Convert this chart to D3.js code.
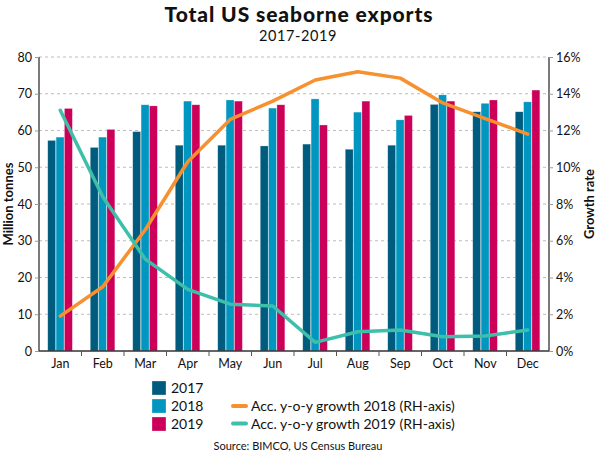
<!DOCTYPE html>
<html><head><meta charset="utf-8">
<script src="https://cdn.jsdelivr.net/npm/d3@7"></script>
<style>
body{margin:0;background:#fff;}
svg{display:block;font-family:Lato, "Open Sans", sans-serif;}
</style></head>
<body>
<svg id="c" width="599" height="455"></svg>
<script>
const months = ["Jan","Feb","Mar","Apr","May","Jun","Jul","Aug","Sep","Oct","Nov","Dec"];
const years = ["2017","2018","2019"];
const exports2017 = [57.3,55.4,59.7,56.0,56.0,55.8,56.3,54.9,56.0,67.1,65.1,65.1];
const exports2018 = [58.2,58.2,67.0,68.0,68.3,66.1,68.6,65.0,62.9,69.7,67.4,67.8];
const exports2019 = [66.0,60.3,66.7,67.0,68.0,67.0,61.5,68.0,64.1,68.0,68.3,71.0];
const growth2018 = [1.9,3.5,6.6,10.3,12.6,13.6,14.75,15.2,14.85,13.5,12.65,11.8];
const growth2019 = [13.1,8.4,5.0,3.35,2.55,2.45,0.47,1.05,1.14,0.78,0.82,1.14];
const leftTicks = [0,10,20,30,40,50,60,70,80];
const rightTicks = [0,2,4,6,8,10,12,14,16];

const barColors = {"2017":"#005c7f","2018":"#0096bf","2019":"#cc0058"};
const orange = "#f7902e", teal = "#3dbfaa";

const svg = d3.select("#c");
const m = {l:39, r:549, t:57, b:351};

const x = d3.scaleBand().domain(months).range([m.l, m.r]);
const xs = d3.scaleBand().domain(years).range([0, 25]).padding(0);
const y = d3.scaleLinear().domain([0,80]).range([m.b, m.t]);
const y2 = d3.scaleLinear().domain([0,16]).range([m.b, m.t]);

// gridlines
svg.append("g").selectAll("line").data(leftTicks.filter(d=>d>0)).join("line")
  .attr("x1", m.l).attr("x2", m.r).attr("y1", d=>y(d)).attr("y2", d=>y(d))
  .attr("stroke","#bdbdbd").attr("stroke-width",1).attr("stroke-dasharray","3,3");

// bars
const series = {"2017":exports2017,"2018":exports2018,"2019":exports2019};
const g = svg.append("g");
years.forEach(yr=>{
  g.selectAll(null).data(months).join("rect")
    .attr("x", (d)=> x(d) + (x.bandwidth()-25)/2 + xs(yr))
    .attr("width", xs.bandwidth()-0.4)
    .attr("y", (d,i)=> y(series[yr][i]))
    .attr("height", (d,i)=> y(0)-y(series[yr][i]))
    .attr("fill", barColors[yr])
    .attr("stroke","rgba(255,255,255,0.45)").attr("stroke-width",0.6);
});

// lines
const line = (arr, sc) => d3.line().x((d,i)=>x(months[i])+x.bandwidth()/2).y(d=>sc(d)).curve(d3.curveLinear)(arr);
svg.append("path").attr("d", line(growth2018, y2)).attr("fill","none").attr("stroke",orange).attr("stroke-width",3.5).attr("stroke-linecap","round").attr("stroke-linejoin","round");
svg.append("path").attr("d", line(growth2019, y2)).attr("fill","none").attr("stroke",teal).attr("stroke-width",3.5).attr("stroke-linecap","round").attr("stroke-linejoin","round");

// axes
const axL = svg.append("g").attr("transform",`translate(${m.l},0)`)
  .call(d3.axisLeft(y).tickValues(leftTicks).tickSize(4).tickPadding(3));
const axR = svg.append("g").attr("transform",`translate(${m.r},0)`)
  .call(d3.axisRight(y2).tickValues(rightTicks).tickSize(4).tickPadding(3).tickFormat(d=>d+"%"));
const axB = svg.append("g").attr("transform",`translate(0,${m.b})`)
  .call(d3.axisBottom(x).tickSize(0).tickPadding(8));
// band-edge ticks
svg.append("g").selectAll("line").data(months.slice(1)).join("line")
  .attr("x1", d=>x(d)).attr("x2", d=>x(d)).attr("y1", m.b).attr("y2", m.b+5)
  .attr("stroke","#555").attr("stroke-width",1);
[axL,axR,axB].forEach(a=>{
  a.select(".domain").attr("stroke","#333").attr("stroke-width",1.3);
  a.selectAll(".tick line").attr("stroke","#999");
  a.selectAll("text").attr("font-family","Lato, sans-serif").attr("font-size",12.5).attr("fill","#111");
});
axB.select(".domain").attr("d", `M${m.l},0H${m.r}`);
axL.select(".domain").attr("d", `M0,${m.t}V${m.b}`);
axR.select(".domain").attr("d", `M0,${m.t}V${m.b}`);

// axis titles
svg.append("text").attr("transform",`translate(13,${(m.t+m.b)/2}) rotate(-90)`)
  .attr("text-anchor","middle").attr("font-weight","bold").attr("font-size",13).attr("fill","#111")
  .text("Million tonnes");
svg.append("text").attr("transform",`translate(594,${(m.t+m.b)/2}) rotate(-90)`)
  .attr("text-anchor","middle").attr("font-weight","bold").attr("font-size",13).attr("fill","#111")
  .text("Growth rate");

// title
svg.append("text").attr("x",299).attr("y",21.5).attr("text-anchor","middle")
  .attr("font-weight","900").attr("font-size",21).attr("letter-spacing",0.9).attr("fill","#111").text("Total US seaborne exports");
svg.append("text").attr("x",298).attr("y",41).attr("text-anchor","middle")
  .attr("font-size",14.5).attr("letter-spacing",0.6).attr("fill","#111").text("2017-2019");

// legend
const lg = svg.append("g");
years.forEach((yr,i)=>{
  const yy = 381 + i*18;
  lg.append("rect").attr("x",152).attr("y",yy).attr("width",14).attr("height",14).attr("fill",barColors[yr])
    .attr("stroke","rgba(255,255,255,0.5)").attr("stroke-width",0.6);
  lg.append("text").attr("x",171).attr("y",yy+12).attr("font-size",14).attr("fill","#111").text(yr);
});
const lineLeg = [["Acc. y-o-y growth 2018 (RH-axis)",orange],["Acc. y-o-y growth 2019 (RH-axis)",teal]];
lineLeg.forEach((d,i)=>{
  const yy = 406 + i*17.5;
  lg.append("line").attr("x1",233).attr("x2",246).attr("y1",yy).attr("y2",yy)
    .attr("stroke",d[1]).attr("stroke-width",4).attr("stroke-linecap","round");
  lg.append("text").attr("x",251).attr("y",yy+5).attr("font-size",14).attr("fill","#111").text(d[0]);
});
svg.append("text").attr("x",298).attr("y",450).attr("text-anchor","middle")
  .attr("font-size",11).attr("fill","#111").text("Source: BIMCO, US Census Bureau");
</script>
</body></html>
